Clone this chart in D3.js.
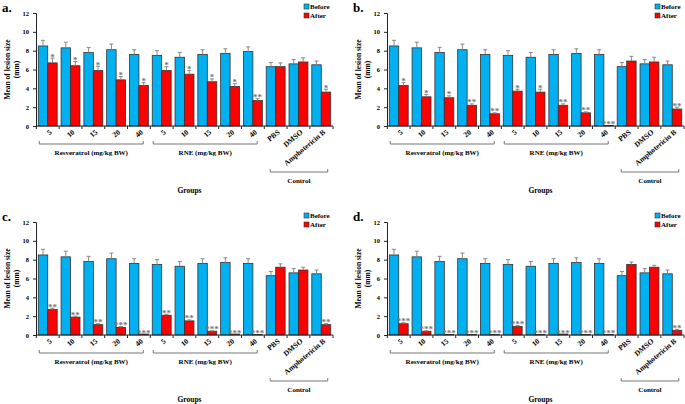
<!DOCTYPE html>
<html>
<head>
<meta charset="utf-8">
<script src="https://cdn.jsdelivr.net/npm/d3@7"></script>
<style>
  body { margin: 0; background: #fff; }
  text { font-family: "Liberation Serif", "Times New Roman", serif; font-weight: bold; }
</style>
</head>
<body>
<div id="chart"></div>
<script>
// Categories along the x axis
const categories = ["5", "10", "15", "20", "40", "5 ", "10 ", "15 ", "20 ", "40 ", "PBS", "DMSO", "Amphotericin B"];
const yTicks = [0, 2, 4, 6, 8, 10, 12];

// Before treatment (same in every panel except RNE 40 in panel a)
const beforeA = [8.5, 8.3, 7.8, 8.1, 7.6, 7.5, 7.3, 7.6, 7.7, 7.9, 6.3, 6.6, 6.5];
const beforeOther = [8.5, 8.3, 7.8, 8.1, 7.6, 7.5, 7.3, 7.6, 7.7, 7.6, 6.3, 6.6, 6.5];
const beforeErr = [0.6, 0.6, 0.55, 0.6, 0.5, 0.5, 0.5, 0.5, 0.5, 0.5, 0.45, 0.45, 0.4];

// After treatment, one array per panel
const afterA = [6.7, 6.4, 5.9, 4.9, 4.3, 5.9, 5.5, 4.7, 4.2, 2.7, 6.3, 6.8, 3.6];
const afterB = [4.3, 3.1, 3.0, 2.2, 1.3, 3.7, 3.6, 2.2, 1.4, 0.05, 6.9, 6.8, 1.8];
const afterC = [2.7, 1.9, 1.1, 0.8, 0.1, 2.1, 1.5, 0.4, 0.1, 0.05, 7.2, 6.9, 1.1];
const afterD = [1.2, 0.4, 0.05, 0.05, 0.05, 0.9, 0.05, 0.1, 0.05, 0.05, 7.5, 7.2, 0.5];

const afterErrA = [0.5, 0.45, 0.45, 0.35, 0.3, 0.4, 0.4, 0.3, 0.3, 0.2, 0.4, 0.45, 0.3];
const afterErrB = [0.3, 0.25, 0.2, 0.15, 0.1, 0.2, 0.3, 0.15, 0.1, 0, 0.5, 0.5, 0.2];
const afterErrC = [0.15, 0.1, 0.1, 0.1, 0, 0.1, 0.1, 0.05, 0, 0, 0.35, 0.3, 0.1];
const afterErrD = [0.1, 0.05, 0, 0, 0, 0.1, 0, 0, 0, 0, 0.25, 0.2, 0.1];

// Significance marks
const starsA = ["*", "*", "*", "*", "*", "*", "*", "*", "*", "**", "", "", "*"];
const starsB = ["*", "*", "*", "**", "**", "*", "*", "**", "**", "***", "", "", "**"];
const starsC = ["**", "**", "**", "***", "***", "**", "**", "***", "***", "***", "", "", "**"];
const starsD = ["***", "***", "***", "***", "***", "***", "***", "***", "***", "***", "", "", "**"];

const groupLabels = ["Resveratrol (mg/kg BW)", "RNE (mg/kg BW)"];

const blue = "#00b0f0";
const red = "#ff0000";

const svg = d3.select("#chart")
    .append("svg")
    .attr("width", 685)
    .attr("height", 404);

// Draw one panel at offset (ox, oy)
function drawPanel(ox, oy, letter, before, after, afterErr, stars) {
    const g = svg.append("g").attr("transform", `translate(${ox},${oy})`);

    const left = 36, right = 333, top = 13, bottom = 126;

    const x = d3.scaleBand()
        .domain(categories)
        .range([left, right])
        .paddingInner(0.17)
        .paddingOuter(0.1);

    const xSub = d3.scaleBand()
        .domain(["before", "after"])
        .range([0, x.bandwidth()]);

    const y = d3.scaleLinear()
        .domain([0, 12])
        .range([bottom, top]);

    // Panel letter
    g.append("text")
        .attr("x", 2)
        .attr("y", 12)
        .attr("font-size", 13)
        .text(letter);

    // Before bars
    g.selectAll(".before")
        .data(before)
        .enter()
        .append("rect")
        .attr("x", (d, i) => x(categories[i]) + xSub("before"))
        .attr("y", d => y(d))
        .attr("width", xSub.bandwidth())
        .attr("height", d => y(0) - y(d))
        .attr("fill", blue)
        .attr("stroke", "#333")
        .attr("stroke-width", 0.8);

    // After bars
    g.selectAll(".after")
        .data(after)
        .enter()
        .append("rect")
        .attr("x", (d, i) => x(categories[i]) + xSub("after"))
        .attr("y", d => y(d))
        .attr("width", xSub.bandwidth())
        .attr("height", d => y(0) - y(d))
        .attr("fill", red)
        .attr("stroke", "#333")
        .attr("stroke-width", 0.8);

    // Error bars (upper half only)
    function errorBars(vals, errs, key) {
        vals.forEach((v, i) => {
            if (!errs[i]) return;
            const cx = x(categories[i]) + xSub(key) + xSub.bandwidth() / 2;
            g.append("line")
                .attr("x1", cx).attr("x2", cx)
                .attr("y1", y(v)).attr("y2", y(v + errs[i]))
                .attr("stroke", "#888").attr("stroke-width", 1);
            g.append("line")
                .attr("x1", cx - 2).attr("x2", cx + 2)
                .attr("y1", y(v + errs[i])).attr("y2", y(v + errs[i]))
                .attr("stroke", "#888").attr("stroke-width", 1);
        });
    }
    errorBars(before, beforeErr, "before");
    errorBars(after, afterErr, "after");

    // Stars above after bars
    g.selectAll(".star")
        .data(stars)
        .enter()
        .append("text")
        .attr("x", (d, i) => x(categories[i]) + xSub("after") + xSub.bandwidth() / 2)
        .attr("y", (d, i) => y(after[i] + afterErr[i]) + 1.5)
        .attr("text-anchor", "middle")
        .attr("font-size", 9)
        .attr("fill", "#777")
        .text(d => d);

    // Y axis
    const yAxis = g.append("g")
        .attr("transform", `translate(${left},0)`)
        .call(d3.axisLeft(y).tickValues(yTicks).tickSize(3).tickPadding(4));
    yAxis.selectAll("text").attr("font-size", 6.5).attr("font-family", "Liberation Serif").attr("font-weight", "bold");
    yAxis.select(".domain").attr("stroke", "#222");
    yAxis.selectAll("line").attr("stroke", "#222");

    // X axis with ticks at category boundaries
    g.append("line")
        .attr("x1", left).attr("x2", right)
        .attr("y1", bottom).attr("y2", bottom)
        .attr("stroke", "#222");
    const step = x.step();
    const bounds = categories.map(c => x(c) - (step - x.bandwidth()) / 2).concat([right]);
    g.selectAll(".xtick")
        .data(bounds)
        .enter()
        .append("line")
        .attr("x1", d => d).attr("x2", d => d)
        .attr("y1", bottom).attr("y2", bottom + 3)
        .attr("stroke", "#222");

    // Rotated category labels
    g.selectAll(".xlabel")
        .data(categories)
        .enter()
        .append("text")
        .attr("transform", d => `translate(${x(d) + x.bandwidth() / 2 + 3},${bottom + 5}) rotate(-40)`)
        .attr("text-anchor", "end")
        .attr("dy", "0.35em")
        .attr("font-size", 7.5)
        .text(d => d.trim());

    // Y axis title
    const yMid = (top + bottom) / 2;
    g.append("text")
        .attr("transform", `translate(${left - 26},${yMid}) rotate(-90)`)
        .attr("text-anchor", "middle")
        .attr("font-size", 7.5)
        .text("Mean of lesion size");
    g.append("text")
        .attr("transform", `translate(${left - 17},${yMid}) rotate(-90)`)
        .attr("text-anchor", "middle")
        .attr("font-size", 7.5)
        .text("(mm)");

    // Group brackets
    const brackets = [
        { x1: x(categories[0]) + 1, x2: x(categories[5]) - 9, yb: 144, label: groupLabels[0] },
        { x1: x(categories[5]) + 1, x2: x(categories[10]) - 9, yb: 144, label: groupLabels[1] },
        { x1: x(categories[10]) + 4, x2: x(categories[12]) + x.bandwidth() - 3, yb: 172, label: "Control" }
    ];
    brackets.forEach(b => {
        g.append("path")
            .attr("d", `M${b.x1},${b.yb - 3}V${b.yb}H${b.x2}V${b.yb - 3}`)
            .attr("fill", "none")
            .attr("stroke", "#777")
            .attr("stroke-width", 1);
        g.append("text")
            .attr("x", (b.x1 + b.x2) / 2)
            .attr("y", b.yb + 11)
            .attr("text-anchor", "middle")
            .attr("font-size", 7)
            .text(b.label);
    });

    // X axis title
    g.append("text")
        .attr("x", (left + right) / 2 + 5)
        .attr("y", 193)
        .attr("text-anchor", "middle")
        .attr("font-size", 7.5)
        .text("Groups");

    // Legend
    const legend = [{ name: "Before", color: blue }, { name: "After", color: red }];
    legend.forEach((l, i) => {
        g.append("rect")
            .attr("x", 304).attr("y", 4 + i * 9)
            .attr("width", 5).attr("height", 5)
            .attr("fill", l.color)
            .attr("stroke", "#333").attr("stroke-width", 0.6);
        g.append("text")
            .attr("x", 310).attr("y", 9 + i * 9)
            .attr("font-size", 7)
            .text(l.name);
    });
}

drawPanel(0, 0, "a.", beforeA, afterA, afterErrA, starsA);
drawPanel(351, 0, "b.", beforeOther, afterB, afterErrB, starsB);
drawPanel(0, 209, "c.", beforeOther, afterC, afterErrC, starsC);
drawPanel(351, 209, "d.", beforeOther, afterD, afterErrD, starsD);
</script>
</body>
</html>
